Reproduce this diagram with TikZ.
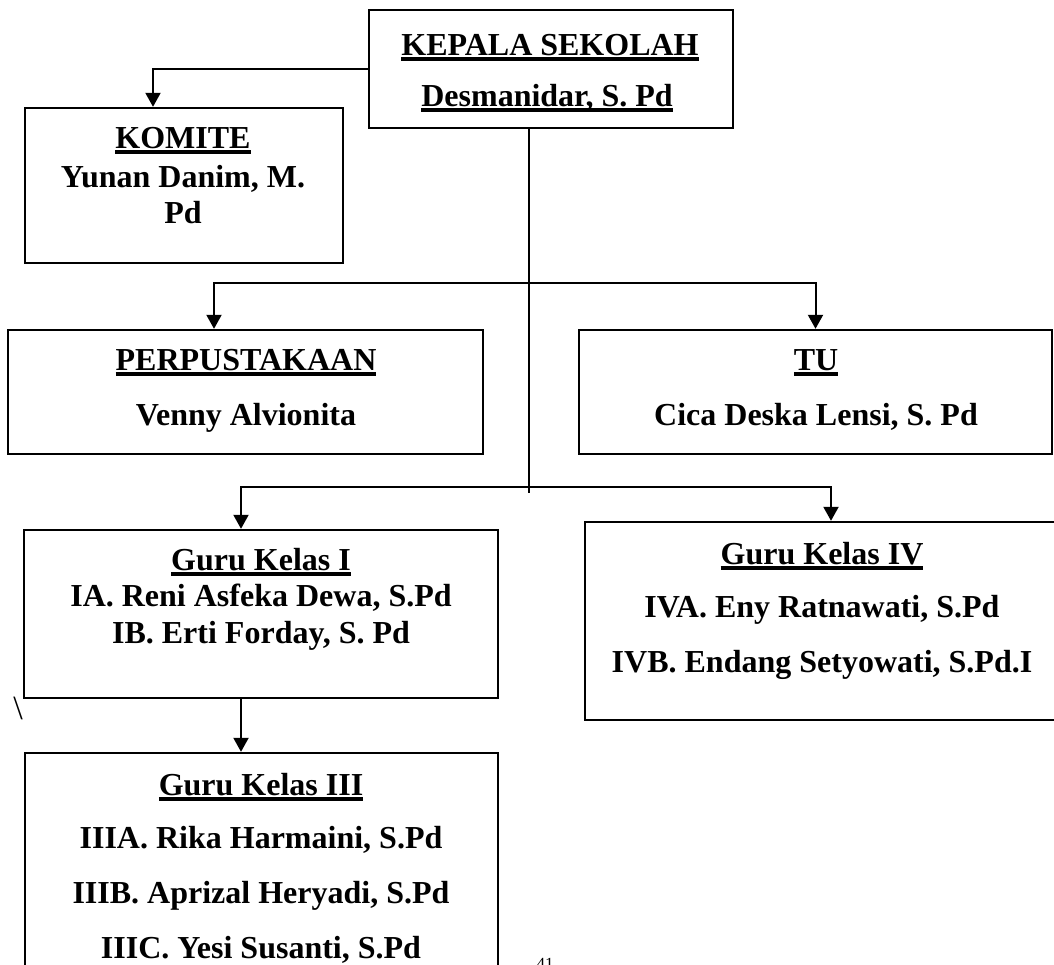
\documentclass[tikz,border=0pt]{standalone}
\usepackage{fontspec}
\setmainfont{Liberation Serif}
\usetikzlibrary{arrows.meta}
\newcommand\ulin[1]{\setbox0\hbox{#1}\rlap{\raisebox{-5.5pt}{\rule{\wd0}{3.4pt}}}\box0}
\begin{document}
\begin{tikzpicture}[x=1pt,y=-1pt,
  box/.style={draw, line width=2.4pt, rectangle, inner sep=0pt},
  conn/.style={line width=2pt},
  arr/.style={line width=2pt, -{Triangle[length=14pt,width=15pt]}},
  txt/.style={anchor=base, inner sep=0pt, font=\bfseries\fontsize{32pt}{37pt}\selectfont},
]
\useasboundingbox (0,0) rectangle (1054,964);

% boxes
\node[box, minimum width=364pt, minimum height=118pt] (kepala) at (551,69) {};
\node[box, minimum width=318pt, minimum height=155pt] (komite) at (184,185.5) {};
\node[box, minimum width=475pt, minimum height=124pt] (perpus) at (245.5,392) {};
\node[box, minimum width=473pt, minimum height=124pt] (tu) at (815.5,392) {};
\node[box, minimum width=474pt, minimum height=168pt] (guru1) at (261,614) {};
\node[box, minimum width=475pt, minimum height=198pt] (guru4) at (822.5,621) {};
\node[box, minimum width=473pt, minimum height=237pt] (guru3) at (261.5,871.5) {};

% texts
\node[txt] (kepT1) at (550,55) {\ulin{KEPALA SEKOLAH}};
\node[txt] (kepT2) at (547,106) {\ulin{Desmanidar, S. Pd}};
\node[txt] (komT1) at (183,148) {\ulin{KOMITE}};
\node[txt] (komT2) at (183,187) {Yunan Danim, M.};
\node[txt] (komT3) at (183,223) {Pd};
\node[txt] (perT1) at (246,370) {\ulin{PERPUSTAKAAN}};
\node[txt] (perT2) at (246,425) {Venny Alvionita};
\node[txt] (tuT1) at (816,370) {\ulin{TU}};
\node[txt] (tuT2) at (816,425) {Cica Deska Lensi, S. Pd};
\node[txt] (g1T1) at (261,570) {\ulin{Guru Kelas I}};
\node[txt] (g1T2) at (261,606) {IA. Reni Asfeka Dewa, S.Pd};
\node[txt] (g1T3) at (261,643) {IB. Erti Forday, S. Pd};
\node[txt] (g4T1) at (822,564) {\ulin{Guru Kelas IV}};
\node[txt] (g4T2) at (822,617) {IVA. Eny Ratnawati, S.Pd};
\node[txt] (g4T3) at (822,672) {IVB. Endang Setyowati, S.Pd.I};
\node[txt] (g3T1) at (261,795) {\ulin{Guru Kelas III}};
\node[txt] (g3T2) at (261,848) {IIIA. Rika Harmaini, S.Pd};
\node[txt] (g3T3) at (261,903) {IIIB. Aprizal Heryadi, S.Pd};
\node[txt] (g3T4) at (261,958) {IIIC. Yesi Susanti, S.Pd};
\node[inner sep=0pt, font=\fontsize{34pt}{40pt}\selectfont] (bslash) at (18,708) {\textbackslash};
\node[inner sep=0pt, anchor=north, font=\fontsize{17pt}{20pt}\selectfont] (pagenum) at (545,958) {41};

% coordinates
\coordinate (kx) at (153,0);
\coordinate (mend) at (529,493);
\coordinate (b1) at (529,283);
\coordinate (b2) at (529,487);
\coordinate (px) at (214,0);
\coordinate (gx) at (241,0);
\coordinate (g4x) at (831,0);

% connectors
\draw[arr] (kepala.west) -| (kx |- komite.north);
\draw[conn] (kepala.south -| mend) -- (mend);
\draw[arr] (b1) -| (px |- perpus.north);
\draw[arr] (b1) -| (tu.north);
\draw[arr] (b2) -| (gx |- guru1.north);
\draw[arr] (b2) -| (g4x |- guru4.north);
\draw[arr] (gx |- guru1.south) -- (gx |- guru3.north);
\end{tikzpicture}
\end{document}
